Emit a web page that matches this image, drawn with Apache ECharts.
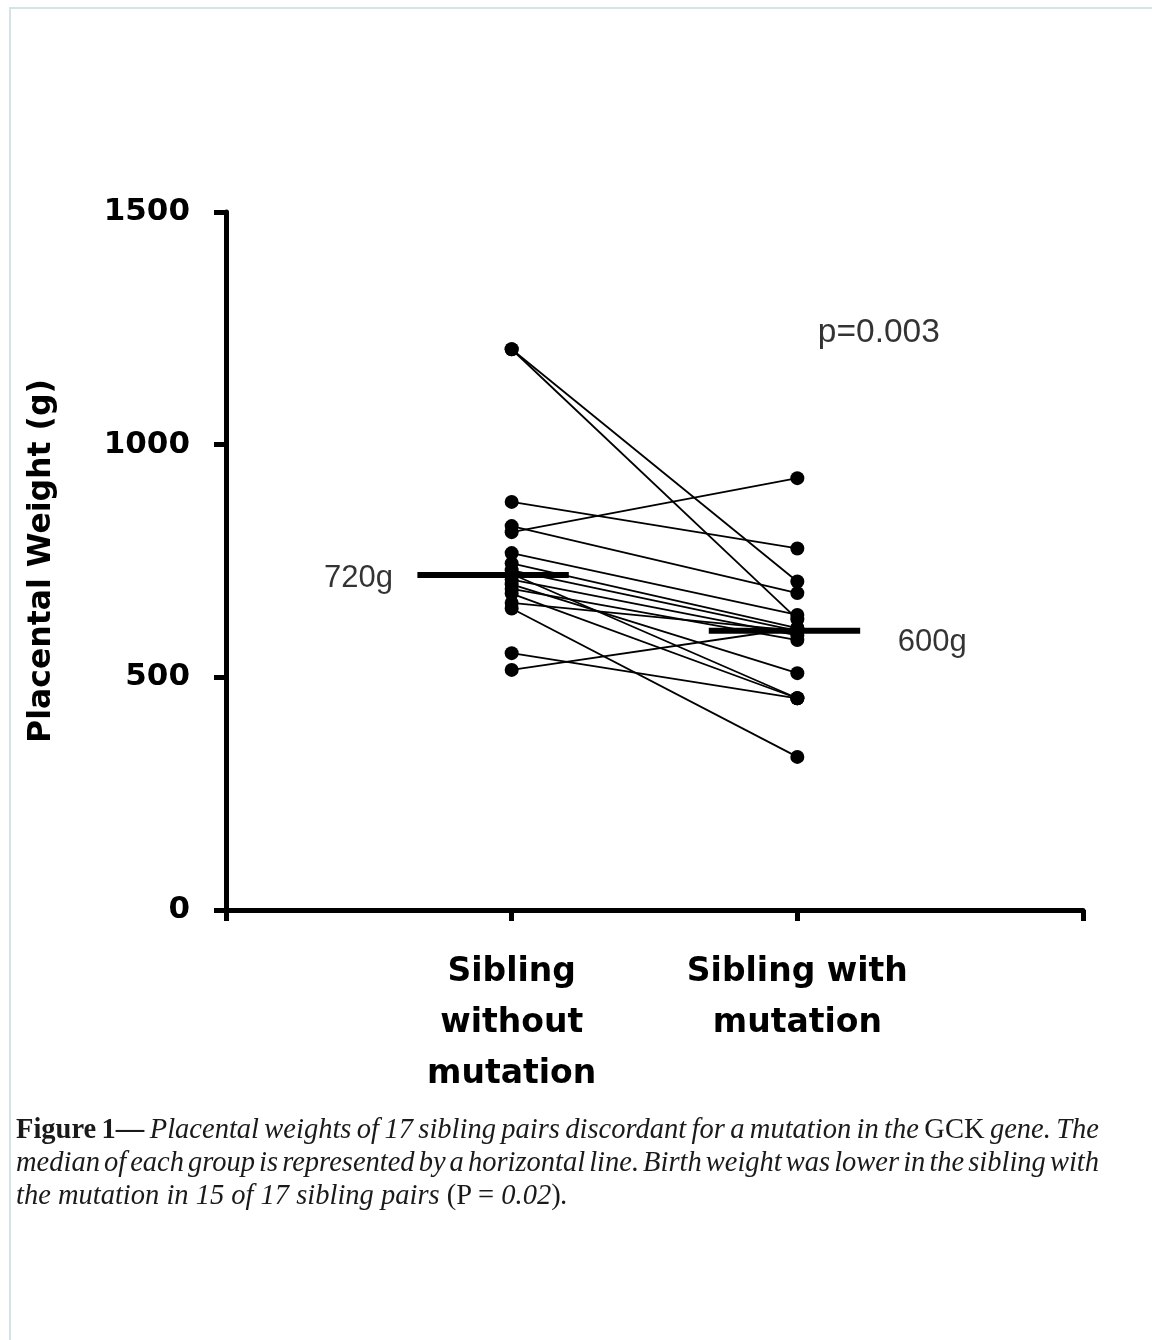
<!DOCTYPE html>
<html>
<head>
<meta charset="utf-8">
<script src="https://cdn.jsdelivr.net/npm/echarts@6/dist/echarts.min.js"></script>
<style>
  html, body { margin: 0; padding: 0; background: #fff; }
  #wrap { position: relative; width: 1152px; height: 1340px; overflow: hidden; }
  #frame { position: absolute; left: 9px; top: 7px; width: 1160px; height: 1400px;
           border-left: 2px solid #d3e3e8; border-top: 2px solid #d3e3e8; }
  #chart { position: absolute; left: 0; top: 0; width: 1152px; height: 1340px; }
  #caption { position: absolute; left: 16px; top: 1112px; width: 1083px;
             font-family: "Liberation Serif", "DejaVu Serif", serif; font-size: 28.5px;
             line-height: 33px; color: #1a1a1a; font-style: italic; }
  #caption .j { text-align: justify; text-align-last: justify; white-space: nowrap; word-spacing: -5px; }
  #caption b { font-style: normal; }
  #caption .n { font-style: normal; }
</style>
</head>
<body>
<div id="wrap">
  <div id="frame"></div>
  <div id="chart"></div>
  <div id="caption">
    <div class="j"><b>Figure 1—</b> Placental weights of 17 sibling pairs discordant for a mutation in the <span class="n">GCK</span> gene. The</div>
    <div class="j">median of each group is represented by a horizontal line. Birth weight was lower in the sibling with</div>
    <div>the mutation in 15 of 17 sibling pairs <span class="n">(P = </span>0.02<span class="n">)</span>.</div>
  </div>
</div>
<script>
// ---- data ----
const groups = ["Sibling\nwithout\nmutation", "Sibling with\nmutation"];
const withoutMutation = [1205, 1205, 877, 825, 812, 767, 745, 730, 722, 710, 700, 690, 680, 660, 648, 552, 516];
const withMutation    = [ 706,  625, 777, 681, 928, 634, 606, 600, 455, 590, 509, 580, 455, 600, 329, 455, 606];
const medianWithout = 720;
const medianWith = 600;
const medianLabels = ["720g", "600g"];
const pText = "p=0.003";
const yTicks = [0, 500, 1000, 1500];

const chart = echarts.init(document.getElementById('chart'), null, { renderer: 'canvas' });

const pairSeries = withoutMutation.map((v, i) => ({
  type: 'line',
  data: [[1, v], [2, withMutation[i]]],
  symbol: 'circle',
  symbolSize: 14,
  itemStyle: { color: '#000' },
  lineStyle: { color: '#000', width: 1.8 },
  silent: true,
  z: 3
}));

const sansBold = '"DejaVu Sans", sans-serif';
const sansReg = '"Liberation Sans", Arial, sans-serif';

function textPoint(coord, text, position, distance, offset, size) {
  return {
    type: 'scatter', silent: true, z: 5,
    data: [coord],
    symbolSize: 1,
    itemStyle: { color: 'rgba(0,0,0,0)' },
    label: { show: true, position: position, distance: distance, offset: offset || [0, 0],
             formatter: text, color: '#000', fontFamily: sansReg, fontSize: size || 31 },
    emphasis: { disabled: true }
  };
}

chart.setOption({
  animation: false,
  backgroundColor: 'transparent',
  grid: { left: 226, right: 69, top: 212, bottom: 430, containLabel: false },
  xAxis: {
    type: 'value', min: 0, max: 3, interval: 1,
    axisLine: { show: true, lineStyle: { color: '#000', width: 5 } },
    axisTick: { show: true, inside: false, length: 11, lineStyle: { color: '#000', width: 5 } },
    splitLine: { show: false },
    axisLabel: {
      margin: 37,
      color: '#000',
      fontFamily: sansBold, fontWeight: 'bold', fontSize: 33, lineHeight: 51,
      formatter: v => (v === 1 ? groups[0] : v === 2 ? groups[1] : '')
    }
  },
  yAxis: {
    type: 'value', min: yTicks[0], max: yTicks[yTicks.length - 1], interval: 500,
    name: 'Placental Weight (g)',
    nameLocation: 'middle', nameGap: 168, nameRotate: 90,
    nameTextStyle: { color: '#000', fontFamily: sansBold, fontWeight: 'bold', fontSize: 31.5 },
    axisLine: { show: true, lineStyle: { color: '#000', width: 5 } },
    axisTick: { show: true, length: 12, lineStyle: { color: '#000', width: 5 } },
    splitLine: { show: false },
    axisLabel: { margin: 36, color: '#000', fontFamily: sansBold, fontWeight: 'bold', fontSize: 31,
                 formatter: v => String(v) }
  },
  series: pairSeries.concat([
    {
      type: 'line', silent: true, z: 4,
      data: [[0.67, medianWithout], [1.2, medianWithout]],
      symbol: 'none',
      lineStyle: { color: '#000', width: 6 }
    },
    {
      type: 'line', silent: true, z: 4,
      data: [[1.69, medianWith], [2.22, medianWith]],
      symbol: 'none',
      lineStyle: { color: '#000', width: 6 }
    },
    textPoint([0.67, medianWithout], medianLabels[0], 'left', 24, [0, 3], 31),
    textPoint([2.22, medianWith], medianLabels[1], 'right', 37, [0, 12], 31),
    textPoint([2.07, 1242], pText, 'right', 0, [0, 1], 33.5)
  ])
});
</script>
</body>
</html>
